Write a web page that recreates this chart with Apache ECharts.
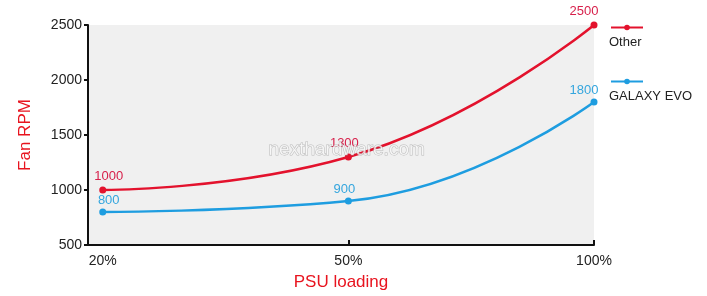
<!DOCTYPE html>
<html><head><meta charset="utf-8">
<script src="https://cdn.jsdelivr.net/npm/echarts@6/dist/echarts.min.js"></script>
<style>html,body{margin:0;padding:0;background:#fff}#c{width:707px;height:296px}</style>
</head><body><div id="c"></div>
<script>
const categories = ['20%', '50%', '100%'];
const otherValues = [1000, 1300, 2500];
const galaxyValues = [800, 900, 1800];
const yTicks = [500, 1000, 1500, 2000, 2500];
const seriesNames = ['Other', 'GALAXY EVO'];

const RED = '#e3122d', RED_LBL = '#d71f4a', BLUE = '#1e9de0', BLUE_LBL = '#35a6de';
const labelDx = [6, -4, -10];
function pts(vals) {
  return vals.map((v, i) => ({ value: [i, v], label: { offset: [labelDx[i], 0] } }));
}
const chart = echarts.init(document.getElementById('c'), null, { renderer: 'canvas' });
const font = 'Liberation Sans, Arial, sans-serif';
chart.setOption({
  animation: false,
  grid: { left: 88, right: 113, top: 25, bottom: 50, show: true, backgroundColor: '#f0f0f0', borderWidth: 0 },
  xAxis: {
    type: 'value', min: -0.06, max: 2,
    axisLine: { show: true, onZero: false, lineStyle: { color: '#111', width: 2 } },
    axisTick: { show: true, inside: true, length: 5, customValues: [1, 2], lineStyle: { color: '#111', width: 2 } },
    axisLabel: { customValues: [0, 1, 2], formatter: v => categories[Math.round(v)], color: '#222', fontSize: 14, fontFamily: font, margin: 9 },
    splitLine: { show: false },
    name: 'PSU loading', nameLocation: 'middle', nameGap: 29,
    nameTextStyle: { color: '#e8141f', fontSize: 17, fontFamily: font }
  },
  yAxis: {
    type: 'value', min: yTicks[0], max: yTicks[yTicks.length - 1], interval: 500,
    axisLine: { show: true, onZero: false, lineStyle: { color: '#111', width: 2 } },
    axisTick: { show: true, length: 4, lineStyle: { color: '#111', width: 2 } },
    axisLabel: { color: '#222', fontSize: 14, fontFamily: font, margin: 6, formatter: v => String(v) },
    splitLine: { show: false },
    name: 'Fan RPM', nameLocation: 'middle', nameGap: 54, nameRotate: 90,
    nameTextStyle: { color: '#e8141f', fontSize: 17, fontFamily: font }
  },
  legend: [
    { data: [seriesNames[0]], left: 605, top: 19, itemWidth: 32, itemHeight: 7, formatter: () => '', selectedMode: false },
    { data: [seriesNames[1]], left: 605, top: 73, itemWidth: 32, itemHeight: 7, formatter: () => '', selectedMode: false }
  ],
  graphic: [
    { type: 'text', left: 609, top: 36, style: { text: seriesNames[0], fill: '#222', font: '13px ' + font } },
    { type: 'text', left: 609, top: 90, style: { text: seriesNames[1], fill: '#222', font: '13px ' + font } },
    { type: 'text', left: 268, top: 140, z: 100, style: { text: 'nexthardware.com', fill: 'rgba(255,255,255,0.75)', stroke: 'rgba(150,150,150,0.6)', lineWidth: 1, font: '19px ' + font } }
  ],
  series: [
    {
      name: seriesNames[0], type: 'line', data: pts(otherValues), smooth: 0.5,
      symbol: 'circle', symbolSize: 7, color: RED,
      lineStyle: { color: RED, width: 2.5 },
      label: { show: true, position: 'top', distance: 4, color: RED_LBL, fontSize: 13, fontFamily: font, formatter: p => p.value[1] }
    },
    {
      name: seriesNames[1], type: 'line', data: pts(galaxyValues), smooth: 0.5,
      symbol: 'circle', symbolSize: 7, color: BLUE,
      lineStyle: { color: BLUE, width: 2.5 },
      label: { show: true, position: 'top', distance: 2, color: BLUE_LBL, fontSize: 13, fontFamily: font, formatter: p => p.value[1] }
    }
  ]
});
</script></body></html>
